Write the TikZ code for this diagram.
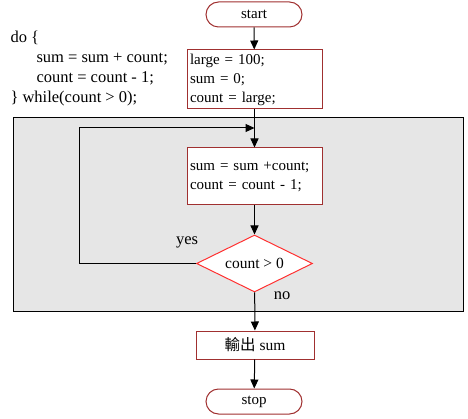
\documentclass[tikz,border=0pt]{standalone}
\usepackage{fontspec}
\setmainfont{Liberation Serif}
\newfontfamily\cjkfont{Noto Sans CJK TC}
\usetikzlibrary{shapes.geometric,arrows.meta}
\definecolor{boxred}{HTML}{A03030}
\definecolor{diared}{HTML}{FF3030}
\definecolor{bggray}{HTML}{E6E6E6}
\tikzset{
  every path/.style={line width=1pt},
  term/.style={draw=boxred, line width=1pt, rounded corners=12.5pt, minimum width=96pt, minimum height=25pt, inner sep=0pt, font=\fontsize{15}{17}\selectfont, fill=white},
  procbox/.style={draw=boxred, line width=1pt, fill=white, minimum width=135pt, inner sep=3pt, text width=129pt, align=left, font=\fontsize{15}{19}\selectfont},
  decide/.style={draw=diared, line width=1pt, fill=white, shape=diamond, shape aspect=2, minimum width=116pt, minimum height=57pt, inner sep=0pt, font=\fontsize{15.5}{17}\selectfont},
  arr/.style={-{Triangle[length=9pt,width=8pt]}, line width=1pt},
  lbl/.style={font=\fontsize{16.5}{18}\selectfont, inner sep=0pt},
}
\begin{document}
\begin{tikzpicture}[x=1pt,y=-1pt]
\useasboundingbox (0,0) rectangle (468,419);
\node[draw=black, fill=bggray, minimum width=450pt, minimum height=193pt, inner sep=0pt, line width=1pt] (loopbg) at (238,214.5) {};
\node[term] (start) at (254,14.5) {start};
\node[procbox, minimum height=59pt] (init) at (254.5,79.5) {large = 100;\\sum = 0;\\count = large;};
\node[procbox, minimum height=57pt] (body) at (254.5,176.5) {sum = sum +count;\\count = count - 1;};
\node[decide] (dia) at (254.5,263.5) {count \textgreater{} 0};
\node[draw=boxred, line width=1pt, fill=white, minimum width=118pt, minimum height=28pt, inner sep=0pt, font=\fontsize{15.5}{17}\selectfont] (out) at (255,345) {{\cjkfont 輸出} sum};
\node[term] (stop) at (254,401.5) {stop};
\node[anchor=north west, align=left, inner sep=0pt, font=\fontsize{16.5}{20}\selectfont] (code) at (10,31) {do \{\\\hspace*{26pt}sum = sum + count;\\\hspace*{26pt}count = count - 1;\\\} while(count \textgreater{} 0);};
\coordinate (join) at (254.5,128);
\draw[arr] (start) -- (init);
\draw[arr] (init) -- (body);
\draw[arr] (body) -- (dia);
\draw[arr] (dia) -- (out);
\draw[arr] (out) -- (stop);
\draw[arr] (dia.west) -- ++(-117,0) |- (join);
\node[lbl] (yes) at (187,242) {yes};
\node[lbl] (no) at (282,296) {no};
\end{tikzpicture}
\end{document}
